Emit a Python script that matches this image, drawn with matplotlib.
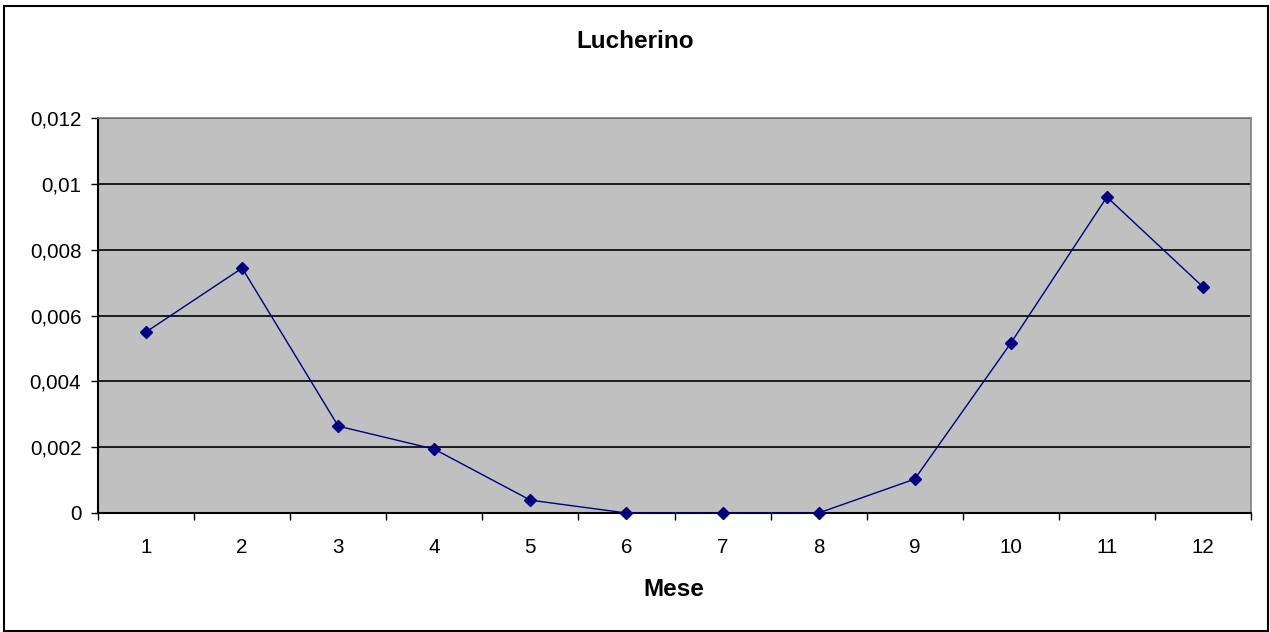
import matplotlib
matplotlib.use("Agg")
import matplotlib.pyplot as plt
from matplotlib.patches import Rectangle

plt.rcParams['font.family'] = ['Liberation Sans', 'DejaVu Sans']

months = [1, 2, 3, 4, 5, 6, 7, 8, 9, 10, 11, 12]
values = [0.0055, 0.00744, 0.00264, 0.00194, 0.00039, 0.0, 0.0, 0.0,
          0.00103, 0.00516, 0.0096, 0.00687]
y_ticks = [0, 0.002, 0.004, 0.006, 0.008, 0.01, 0.012]
y_tick_labels = ["0", "0,002", "0,004", "0,006", "0,008", "0,01", "0,012"]
title = "Lucherino"
xlabel = "Mese"

W, H = 1270, 632
fig = plt.figure(figsize=(W / 100, H / 100), dpi=100)
fig.patch.set_facecolor("white")

# outer frame
fig.add_artist(Rectangle((4 / W, 1.5 / H), (1268 - 4) / W, (626 - 1.5) / H,
                         transform=fig.transFigure, fill=False,
                         edgecolor="black", linewidth=1.5))

ax = fig.add_axes([98 / W, (H - 513) / H, (1251 - 98) / W, (513 - 118) / H])
ax.set_facecolor("#c0c0c0")

ax.plot(months, values, color="#000080", linewidth=1.0, marker="D",
        markersize=6.5, markerfacecolor="#000080", markeredgecolor="#000080",
        zorder=3, clip_on=False)

ax.set_xlim(0.5, 12.5)
ax.set_ylim(0, 0.012)
ax.set_yticks(y_ticks)
ax.set_yticklabels(y_tick_labels, fontsize=14.8)
ax.set_xticks(months)
ax.set_xticklabels([str(m) for m in months], fontsize=14.8)
ax.set_xticks([m + 0.5 for m in [0] + months], minor=True)
ax.tick_params(axis="x", which="major", length=0, pad=18)
ax.tick_params(axis="x", which="minor", length=5, width=1, color="black", direction="out")
ax.tick_params(axis="y", which="major", length=5, width=1, color="black", direction="out", pad=7)

ax.yaxis.grid(True, color="black", linewidth=1.2)
ax.set_axisbelow(True)

for s in ["top", "right"]:
    ax.spines[s].set_color("#808080")
    ax.spines[s].set_linewidth(1.2)
for s in ["left", "bottom"]:
    ax.spines[s].set_color("black")
    ax.spines[s].set_linewidth(1.5)

fig.text(635 / W, 1 - 42 / H, title, ha="center", va="center",
         fontsize=17.5, fontweight="bold")
fig.text(674 / W, 1 - 589 / H, xlabel, ha="center", va="center",
         fontsize=17.5, fontweight="bold")

fig.savefig("out.png", dpi=100, facecolor="white")
